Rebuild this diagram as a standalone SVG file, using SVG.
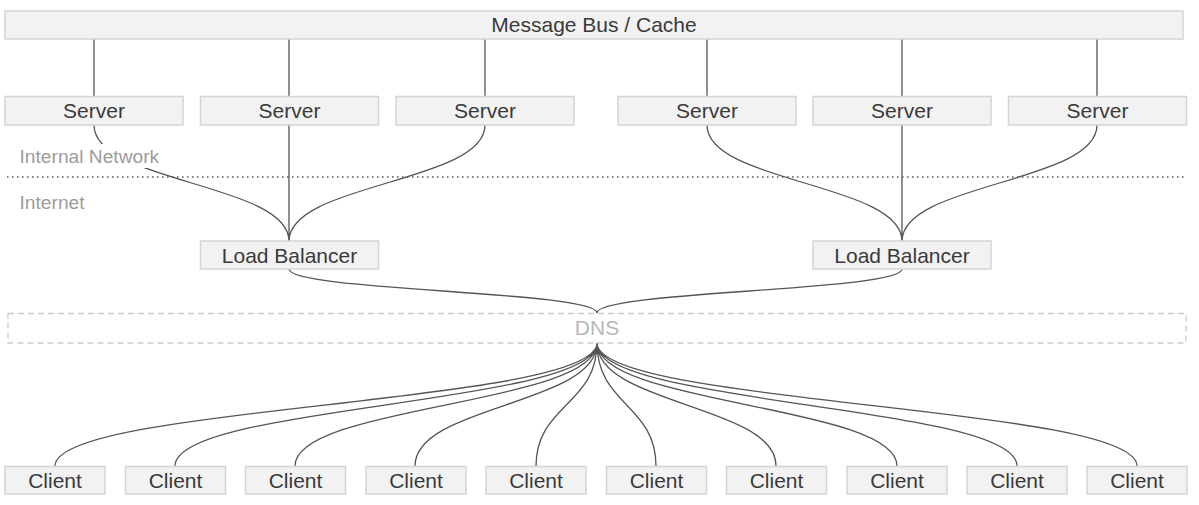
<svg xmlns="http://www.w3.org/2000/svg" width="1199" height="505" viewBox="0 0 1199 505">
<style>
.box{fill:#f2f2f2;stroke:#d4d4d4;stroke-width:1.5}
.t{font-family:"Liberation Sans",Arial,sans-serif;font-size:21px;fill:#3a3a3a;text-anchor:middle}
.lbl{font-family:"Liberation Sans",Arial,sans-serif;font-size:19.2px;fill:#9c9c9c}
.c{fill:none;stroke:#555;stroke-width:1.3}
</style>
<rect width="1199" height="505" fill="#fff"/>
<g id="connectors">
<path class="c" d="M94,39V96M289,39V96M485,39V96M707,39V96M902,39V96M1097,39V96"/>
<path class="c" d="M289,125V241M94,125C94,183 289,183 289,241M485,125C485,183 289,183 289,241"/>
<path class="c" d="M902,125V241M707,125C707,183 902,183 902,241M1097,125C1097,183 902,183 902,241"/>
<path class="c" d="M289,269C289,291 597,291 597,313M902,269C902,291 597,291 597,313"/>
<path class="c" d="M597,343C597,405 55,405 55,466M597,343C597,405 175,405 175,466M597,343C597,405 295,405 295,466M597,343C597,405 415,405 415,466M597,343C597,405 536,405 536,466M597,343C597,405 656,405 656,466M597,343C597,405 776,405 776,466M597,343C597,405 897,405 897,466M597,343C597,405 1017,405 1017,466M597,343C597,405 1137,405 1137,466"/>
</g>
<g id="zones">
<line x1="7" y1="177" x2="1186" y2="177" stroke="#555" stroke-width="1.3" stroke-dasharray="1.5,3.5"/>
<rect x="15" y="144" width="150" height="24" fill="#fff"/>
<text class="lbl" x="19.5" y="163">Internal Network</text>
<text class="lbl" x="19.5" y="209">Internet</text>
</g>
<g id="bus"><rect class="box" x="5" y="11" width="1178" height="28"/><text class="t" x="594" y="32">Message Bus / Cache</text></g>
<g id="server1"><rect class="box" x="5" y="96.5" width="178" height="28.5"/><text class="t" x="94" y="118">Server</text></g>
<g id="server2"><rect class="box" x="200.5" y="96.5" width="178" height="28.5"/><text class="t" x="289.5" y="118">Server</text></g>
<g id="server3"><rect class="box" x="396" y="96.5" width="178" height="28.5"/><text class="t" x="485" y="118">Server</text></g>
<g id="server4"><rect class="box" x="618" y="96.5" width="178" height="28.5"/><text class="t" x="707" y="118">Server</text></g>
<g id="server5"><rect class="box" x="813" y="96.5" width="178" height="28.5"/><text class="t" x="902" y="118">Server</text></g>
<g id="server6"><rect class="box" x="1008.5" y="96.5" width="178" height="28.5"/><text class="t" x="1097.5" y="118">Server</text></g>
<g id="lb1"><rect class="box" x="200.5" y="241" width="178" height="28"/><text class="t" x="289.5" y="263">Load Balancer</text></g>
<g id="lb2"><rect class="box" x="813" y="241" width="178" height="28"/><text class="t" x="902" y="263">Load Balancer</text></g>
<g id="dns"><rect x="8" y="313.5" width="1178" height="29.5" fill="none" stroke="#ccc" stroke-width="1.3" stroke-dasharray="6,4"/><text class="t" x="597" y="335" style="fill:#b8b8b8">DNS</text></g>
<g id="client1"><rect class="box" x="5" y="466.5" width="100" height="27.5"/><text class="t" x="55" y="488">Client</text></g>
<g id="client2"><rect class="box" x="125.5" y="466.5" width="100" height="27.5"/><text class="t" x="175.5" y="488">Client</text></g>
<g id="client3"><rect class="box" x="245.5" y="466.5" width="100" height="27.5"/><text class="t" x="295.5" y="488">Client</text></g>
<g id="client4"><rect class="box" x="366" y="466.5" width="100" height="27.5"/><text class="t" x="416" y="488">Client</text></g>
<g id="client5"><rect class="box" x="486" y="466.5" width="100" height="27.5"/><text class="t" x="536" y="488">Client</text></g>
<g id="client6"><rect class="box" x="606.5" y="466.5" width="100" height="27.5"/><text class="t" x="656.5" y="488">Client</text></g>
<g id="client7"><rect class="box" x="726.5" y="466.5" width="100" height="27.5"/><text class="t" x="776.5" y="488">Client</text></g>
<g id="client8"><rect class="box" x="847" y="466.5" width="100" height="27.5"/><text class="t" x="897" y="488">Client</text></g>
<g id="client9"><rect class="box" x="967" y="466.5" width="100" height="27.5"/><text class="t" x="1017" y="488">Client</text></g>
<g id="client10"><rect class="box" x="1087" y="466.5" width="100" height="27.5"/><text class="t" x="1137" y="488">Client</text></g>
</svg>
